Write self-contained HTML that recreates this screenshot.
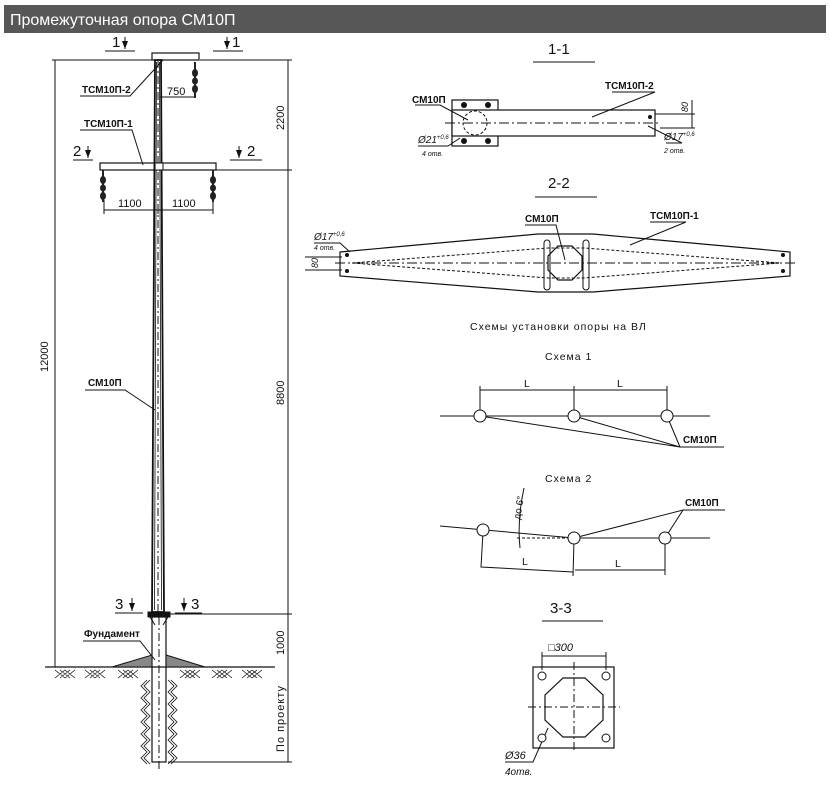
<!DOCTYPE html>
<html><head><meta charset="utf-8"><style>
html,body{margin:0;padding:0;background:#fff;width:830px;height:791px;overflow:hidden}
svg{display:block}
text{font-family:"Liberation Sans","DejaVu Sans",sans-serif;fill:#111}
.b{font-weight:bold;font-size:10px}
</style></head><body>
<svg width="830" height="791" viewBox="0 0 830 791" xmlns="http://www.w3.org/2000/svg">
<defs><marker id="ar" markerWidth="8" markerHeight="6" refX="8" refY="3" orient="auto" markerUnits="userSpaceOnUse"><path d="M0 0 L8 3 L0 6 Z" fill="#111"/></marker></defs>
<rect x="4" y="5" width="822" height="28" fill="#575757"/>
<text x="10" y="25" font-size="16" style="fill:#fff">Промежуточная опора СМ10П</text>
<g stroke="#111" fill="none" stroke-width="1">
<line x1="52" y1="60" x2="152" y2="60"/><line x1="200" y1="60" x2="292" y2="60"/>
<line x1="55" y1="60" x2="55" y2="667"/>
<line x1="216" y1="170" x2="292" y2="170"/>
<line x1="170" y1="614" x2="292" y2="614"/>
<line x1="168" y1="762" x2="292" y2="762"/>
<line x1="288" y1="60" x2="288" y2="762"/>
<line x1="45" y1="667" x2="275" y2="667" stroke-width="1.3"/>
<path d="M155 60 L161 60 L164 612 L152 612 Z" stroke-width="1.8"/>
<line x1="156.5" y1="62" x2="154.5" y2="610" stroke-width="0.8"/><line x1="159.5" y1="62" x2="161.5" y2="610" stroke-width="0.8"/>
<line x1="158" y1="60" x2="158" y2="612" stroke-dasharray="8,3,2,3"/>
<rect x="152" y="53" width="47" height="7" stroke-width="1.2"/>
<rect x="148" y="612" width="22" height="5" fill="#111"/>
<path d="M150 617 L155 625 M168 617 L163 625"/>
<rect x="152" y="617" width="14" height="145" stroke-width="1.2"/>
<line x1="159" y1="617" x2="159" y2="770" stroke-dasharray="8,3,2,3"/>
<rect x="100" y="163" width="116" height="7" stroke-width="1.2"/>
<rect x="155" y="163" width="8" height="7" fill="#fff"/>
<line x1="160" y1="97" x2="195" y2="97"/><line x1="104" y1="210" x2="213" y2="210"/><line x1="158" y1="204" x2="158" y2="214"/>
<line x1="104" y1="200" x2="104" y2="214"/><line x1="213" y1="200" x2="213" y2="214"/>
<line x1="105" y1="51" x2="135" y2="51"/><line x1="125" y1="37" x2="125" y2="49" marker-end="url(#ar)"/>
<line x1="213" y1="51" x2="243" y2="51"/><line x1="227" y1="37" x2="227" y2="49" marker-end="url(#ar)"/>
<line x1="73" y1="160" x2="93" y2="160"/><line x1="88" y1="146" x2="88" y2="158" marker-end="url(#ar)"/>
<line x1="230" y1="160" x2="262" y2="160"/><line x1="239" y1="146" x2="239" y2="158" marker-end="url(#ar)"/>
<line x1="115" y1="613" x2="143" y2="613"/><line x1="132" y1="598" x2="132" y2="611" marker-end="url(#ar)"/>
<line x1="175" y1="613" x2="202" y2="613"/><line x1="184" y1="598" x2="184" y2="611" marker-end="url(#ar)"/>
<path d="M80 96 L130 96 L163 60"/><path d="M80 130 L132 130 L143 165"/>
<path d="M85 390 L125 390 L155 410"/><path d="M83 641 L140 641 L155 660"/>
<path d="M112 667 L152 655 L152 667 Z M166 655 L205 667 L166 667 Z" fill="#888"/>
<g stroke-width="0.8"><path d="M55 670 l10 8 M60 670 l10 8 M65 670 l10 8 M65 670 l-10 8 M70 670 l-10 8 M75 670 l-10 8 M85 670 l10 8 M90 670 l10 8 M95 670 l10 8 M95 670 l-10 8 M100 670 l-10 8 M105 670 l-10 8 M118 670 l10 8 M123 670 l10 8 M128 670 l10 8 M128 670 l-10 8 M133 670 l-10 8 M138 670 l-10 8 M180 670 l10 8 M185 670 l10 8 M190 670 l10 8 M190 670 l-10 8 M195 670 l-10 8 M200 670 l-10 8 M212 670 l10 8 M217 670 l10 8 M222 670 l10 8 M222 670 l-10 8 M227 670 l-10 8 M232 670 l-10 8 M242 670 l10 8 M247 670 l10 8 M252 670 l10 8 M252 670 l-10 8 M257 670 l-10 8 M262 670 l-10 8"/>
<path d="M150 680 l-6 6 l6 6 l-6 6 l6 6 l-6 6 l6 6 l-6 6 l6 6 l-6 6 l6 6 l-6 6 l6 6 l-6 6 l6 6 M147 680 l-6 6 l6 6 l-6 6 l6 6 l-6 6 l6 6 l-6 6 l6 6 l-6 6 l6 6 l-6 6 l6 6 l-6 6 l6 6 M168 680 l6 6 l-6 6 l6 6 l-6 6 l6 6 l-6 6 l6 6 l-6 6 l6 6 l-6 6 l6 6 l-6 6 l6 6 l-6 6 M171 680 l6 6 l-6 6 l6 6 l-6 6 l6 6 l-6 6 l6 6 l-6 6 l6 6 l-6 6 l6 6 l-6 6 l6 6 l-6 6"/></g>
<line x1="533" y1="62" x2="595" y2="62"/>
<rect x="452" y="100" width="46" height="46" stroke-width="1.2"/>
<rect x="452" y="110" width="203" height="26" stroke-width="1.2" fill="#fff"/>
<circle cx="475" cy="123" r="12" stroke-dasharray="3,2"/>
<line x1="445" y1="123" x2="660" y2="123" stroke-dasharray="10,3,2,3"/>
<line x1="655" y1="114" x2="695" y2="114"/><line x1="660" y1="128" x2="695" y2="128"/><line x1="692" y1="100" x2="692" y2="128"/>
<path d="M415 105 L440 105 L468 120"/><path d="M612 92 L655 92 L592 117"/><path d="M418 146 L448 146 L460 138"/><path d="M666 143 L682 143 L648 126"/>
<line x1="535" y1="197" x2="597" y2="197"/>
<path d="M340 252 L538 234 L593 234 L790 252 L790 276 L593 292 L538 292 L340 276 Z" stroke-width="1.2"/>
<path d="M352 263 L548 248 L584 248 L780 263 L584 278 L548 278 Z" stroke-dasharray="3,2"/>
<line x1="335" y1="263" x2="795" y2="263" stroke-dasharray="10,3,2,3"/>
<polygon points="558,246 572,246 582,256 582,270 572,280 558,280 548,270 548,256" stroke-width="1.2"/>
<rect x="544" y="240" width="6" height="50" rx="3"/><rect x="583" y="240" width="6" height="50" rx="3"/>
<line x1="305" y1="257" x2="342" y2="257"/><line x1="305" y1="270" x2="342" y2="270"/>
<path d="M314 243 L340 243 L350 252"/><path d="M525 225 L556 225 L565 260"/><path d="M650 222 L686 222 L630 245"/>
<line x1="440" y1="416" x2="710" y2="416"/>
<line x1="480" y1="390" x2="667" y2="390"/>
<line x1="480" y1="386" x2="480" y2="410"/><line x1="574" y1="386" x2="574" y2="410"/><line x1="667" y1="386" x2="667" y2="410"/>
<path d="M480 416 L680 447 L574 416 M680 447 L667 416 M680 447 L724 447"/>
<path d="M440 526 L574 538 L710 538"/>
<path d="M574 538 L683 510 L665 538 M683 510 L725 510"/>
<line x1="517" y1="538" x2="574" y2="538" stroke-dasharray="3,2"/>
<path d="M524 488 Q517 520 520 548"/>
<path d="M483 532 L481 567 L573 572 M574 540 L573 576 M575 570 L665 570 M665 540 L665 575"/>
<line x1="542" y1="621" x2="603" y2="621"/>
<rect x="533" y="667" width="81" height="81" stroke-width="1.2"/>
<polygon points="563,678 585,678 603,695 603,720 585,737 563,737 545,720 545,695" stroke-width="1.2"/>
<line x1="528" y1="707" x2="620" y2="707" stroke-dasharray="8,3,2,3"/><line x1="574" y1="662" x2="574" y2="752" stroke-dasharray="8,3,2,3"/>
<line x1="542" y1="656" x2="606" y2="656"/><line x1="542" y1="652" x2="542" y2="670"/><line x1="606" y1="652" x2="606" y2="670"/>
<path d="M505 762 L533 762 L548 728"/>
</g>
<g fill="#222">
<rect x="194" y="62" width="2" height="36"/><ellipse cx="195" cy="73" rx="3" ry="4"/><ellipse cx="195" cy="81" rx="3" ry="3.5"/><ellipse cx="195" cy="89" rx="3" ry="4"/>
<rect x="102" y="170" width="2" height="32"/><ellipse cx="103" cy="180" rx="3" ry="4"/><ellipse cx="103" cy="188" rx="3" ry="3.5"/><ellipse cx="103" cy="196" rx="3" ry="4"/>
<rect x="212" y="170" width="2" height="32"/><ellipse cx="213" cy="180" rx="3" ry="4"/><ellipse cx="213" cy="188" rx="3" ry="3.5"/><ellipse cx="213" cy="196" rx="3" ry="4"/>
</g>
<g fill="#111"><circle cx="464" cy="105" r="3"/><circle cx="488" cy="105" r="3"/><circle cx="464" cy="141" r="3"/><circle cx="488" cy="141" r="3"/>
<circle cx="480" cy="416" r="6" fill="#fff" stroke="#111"/><circle cx="574" cy="416" r="6" fill="#fff" stroke="#111"/><circle cx="667" cy="416" r="6" fill="#fff" stroke="#111"/>
<circle cx="483" cy="530" r="6" fill="#fff" stroke="#111"/><circle cx="574" cy="538" r="6" fill="#fff" stroke="#111"/><circle cx="665" cy="538" r="6" fill="#fff" stroke="#111"/>
<circle cx="542" cy="676" r="4" fill="#fff" stroke="#111"/><circle cx="606" cy="676" r="4" fill="#fff" stroke="#111"/><circle cx="542" cy="738" r="4" fill="#fff" stroke="#111"/><circle cx="606" cy="738" r="4" fill="#fff" stroke="#111"/>
<circle cx="347" cy="255" r="2"/><circle cx="347" cy="271" r="2"/><circle cx="783" cy="255" r="2"/><circle cx="783" cy="271" r="2"/><circle cx="650" cy="117" r="2"/></g>
<text x="112" y="47" font-size="15">1</text><text x="232" y="47" font-size="15">1</text>
<text x="73" y="156" font-size="15">2</text><text x="247" y="156" font-size="15">2</text>
<text x="115" y="609" font-size="15">3</text><text x="191" y="609" font-size="15">3</text>
<text x="82" y="93" class="b">ТСМ10П-2</text><text x="84" y="127" class="b">ТСМ10П-1</text>
<text x="88" y="386" class="b">СМ10П</text><text x="84" y="637" class="b">Фундамент</text>
<text x="167" y="95" font-size="11">750</text>
<text x="118" y="207" font-size="11">1100</text><text x="172" y="207" font-size="11">1100</text>
<text transform="translate(48,372) rotate(-90)" font-size="11">12000</text>
<text transform="translate(284,130) rotate(-90)" font-size="11">2200</text>
<text transform="translate(284,405) rotate(-90)" font-size="11">8800</text>
<text transform="translate(284,655) rotate(-90)" font-size="11">1000</text>
<text transform="translate(284,752) rotate(-90)" font-size="11" letter-spacing="1">По проекту</text>
<text x="548" y="54" font-size="15">1-1</text><text x="548" y="188" font-size="15">2-2</text><text x="550" y="613" font-size="15">3-3</text>
<text x="412" y="103" class="b">СМ10П</text><text x="605" y="89" class="b">ТСМ10П-2</text>
<text x="418" y="143" font-size="10" font-style="italic">Ø21<tspan font-size="6" dy="-4">+0,6</tspan></text><text x="422" y="156" font-size="7" font-style="italic">4 отв.</text>
<text x="664" y="140" font-size="10" font-style="italic">Ø17<tspan font-size="6" dy="-4">+0,6</tspan></text><text x="664" y="153" font-size="7" font-style="italic">2 отв.</text>
<text transform="translate(688,112) rotate(-90)" font-size="9" font-style="italic">80</text>
<text x="525" y="222" class="b">СМ10П</text><text x="650" y="219" class="b">ТСМ10П-1</text>
<text x="314" y="240" font-size="10" font-style="italic">Ø17<tspan font-size="6" dy="-4">+0,6</tspan></text><text x="314" y="250" font-size="7" font-style="italic">4 отв.</text>
<text transform="translate(318,268) rotate(-90)" font-size="9" font-style="italic">80</text>
<text x="470" y="330" font-size="10.5" letter-spacing="1">Схемы установки опоры на ВЛ</text>
<text x="545" y="360" font-size="10.5" letter-spacing="1">Схема 1</text>
<text x="524" y="387" font-size="10.5">L</text><text x="617" y="387" font-size="10.5">L</text>
<text x="683" y="443" class="b">СМ10П</text>
<text x="545" y="482" font-size="10.5" letter-spacing="1">Схема 2</text>
<text x="685" y="506" class="b">СМ10П</text>
<text transform="translate(520,520) rotate(-80)" font-size="10">до 6°</text>
<text x="522" y="565" font-size="10.5">L</text><text x="615" y="567" font-size="10.5">L</text>
<text x="548" y="651" font-size="11" font-style="italic">□300</text>
<text x="505" y="759" font-size="11" font-style="italic">Ø36</text><text x="505" y="775" font-size="10" font-style="italic">4отв.</text>
</svg>
</body></html>
